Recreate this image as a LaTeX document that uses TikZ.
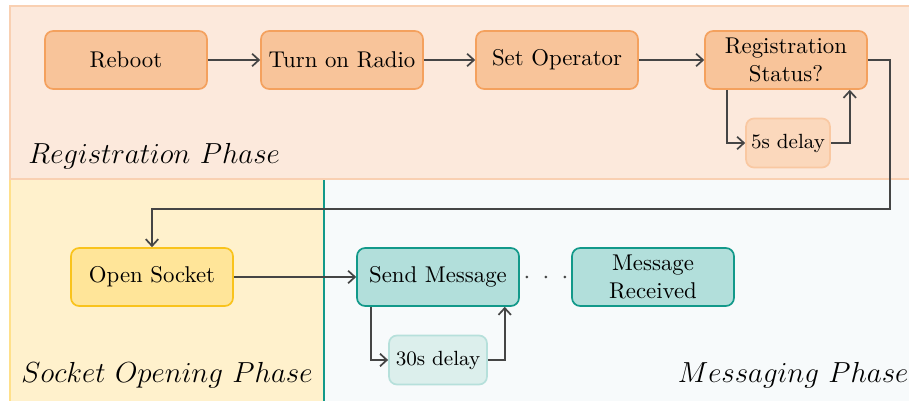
\documentclass[tikz,border=0pt]{standalone}
\usetikzlibrary{arrows.meta,calc}
\definecolor{regbg}{HTML}{FCE9DC}
\definecolor{regbd}{HTML}{F9D0B2}
\definecolor{orfill}{HTML}{F8C49A}
\definecolor{ordraw}{HTML}{F4A15E}
\definecolor{dlfill}{HTML}{FBD8BC}
\definecolor{dldraw}{HTML}{F9C8A2}
\definecolor{sockbg}{HTML}{FFF1CC}
\definecolor{sockbd}{HTML}{FFE08A}
\definecolor{yefill}{HTML}{FFE599}
\definecolor{yedraw}{HTML}{F9C31C}
\definecolor{msgbg}{HTML}{F7FAFB}
\definecolor{tefill}{HTML}{B2DFDB}
\definecolor{tedraw}{HTML}{12998A}
\definecolor{tdfill}{HTML}{DCEFEC}
\definecolor{tddraw}{HTML}{B6E0DB}
\definecolor{conn}{HTML}{454545}
\tikzset{
  box/.style={rectangle, rounded corners=3.5pt, line width=0.75pt, minimum width=71pt, minimum height=25.4pt, align=center, inner sep=1pt, font=\normalsize},
  orbox/.style={box, fill=orfill, draw=ordraw},
  yebox/.style={box, fill=yefill, draw=yedraw},
  tebox/.style={box, fill=tefill, draw=tedraw},
  dlbox/.style={rectangle, rounded corners=3.5pt, line width=0.75pt, minimum height=21.5pt, inner sep=1pt, font=\small},
  arr/.style={draw=conn, line width=0.75pt, -{Straight Barb[length=3pt,width=5.5pt]}},
  phase/.style={inner sep=0pt, font=\large, scale=1.06},
}
\begin{document}
\begin{tikzpicture}[x=0.4386pt, y=-0.4386pt]
\useasboundingbox (0,0) rectangle (909,401);
% regions
\fill[msgbg] (324,179) rectangle (909,401);
\fill[sockbg] (10,179) rectangle (324,401);
\draw[sockbd, line width=0.6pt] (10,401) -- (10,179);
\draw[tedraw, line width=0.5pt] (324,179) -- (324,401);
\fill[regbg] (10,6) rectangle (909,179);
\draw[regbd, line width=0.6pt] (909,6) -- (10,6) -- (10,179) -- (909,179);
% phase labels
\node[phase, anchor=base west] (lreg) at (28,164) {\(Registration\ Phase\)};
\node[phase, anchor=base west] (lsock) at (21,383) {\(Socket\ Opening\ Phase\)};
\node[phase, anchor=base east] (lmsg) at (909,383) {\(Messaging\ Phase\)};
% nodes
\node[orbox] (reboot) at (126,60) {Reboot};
\node[orbox] (radio) at (342,60) {Turn on Radio};
\node[orbox] (oper) at (557,60) {Set Operator};
\node[orbox] (regs) at (786,60) {Registration\\Status?};
\node[dlbox, fill=dlfill, draw=dldraw, minimum width=36.8pt] (d5) at (788,143) {5s delay};
\node[yebox] (open) at (152,277) {Open Socket};
\node[tebox] (send) at (438,277) {Send Message};
\node[tebox] (recv) at (653,277) {Message\\Received};
\node[dlbox, fill=tdfill, draw=tddraw, minimum width=43pt] (d30) at (438,360) {30s delay};
% connectors
\draw[arr] (reboot) -- (radio);
\draw[arr] (radio) -- (oper);
\draw[arr] (oper) -- (regs);
\draw[arr] ([xshift=10.1pt]regs.south west) |- (d5.west);
\draw[arr] (d5.east) -| ([xshift=-7.9pt]regs.south east);
\coordinate (w1) at (890,209);
\draw[arr] (regs.east) -| (w1) -| (open.north);
\draw[arr] (open) -- (send);
\draw[arr] ([xshift=6.6pt]send.south west) |- (d30.west);
\draw[arr] (d30.east) -| ([xshift=-6.6pt]send.south east);
\draw[conn, line width=1.3pt, line cap=round, dash pattern=on 0pt off 8.33pt, dash phase=5.26pt] (send.east) -- (recv.west);
\end{tikzpicture}
\end{document}
